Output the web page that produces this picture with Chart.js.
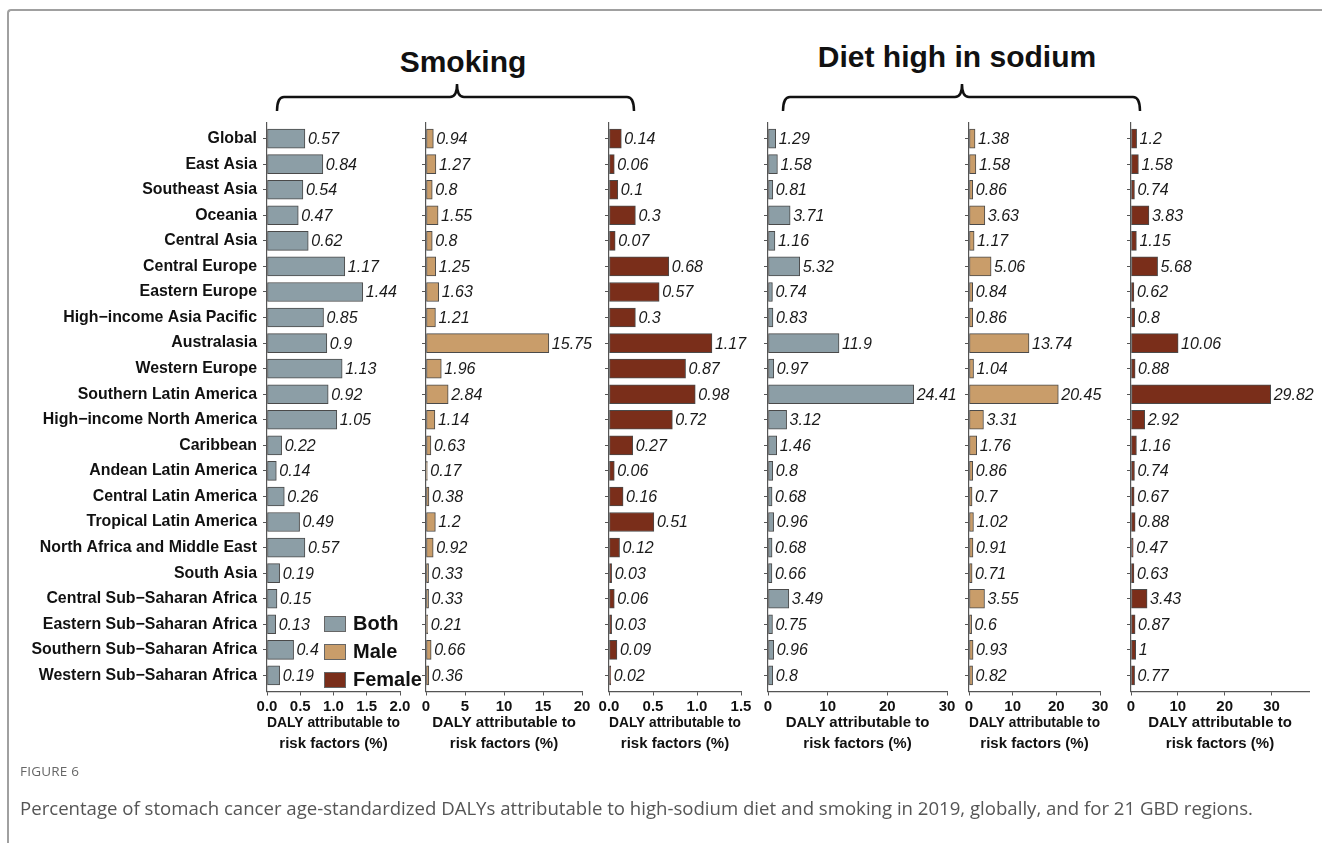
<!DOCTYPE html>
<html>
<head>
<meta charset="utf-8">
<script src="https://cdn.jsdelivr.net/npm/chart.js@4.4.0/dist/chart.umd.min.js"></script>
<style>
    body { margin: 0; width: 1322px; height: 843px; background: #fff; position: relative; overflow: hidden; font-family: "Liberation Sans", Arial, sans-serif; }
    .frame { position: absolute; left: 7px; top: 9px; width: 1400px; height: 900px; border-top: 2px solid #a0a0a0; border-left: 2px solid #a0a0a0; border-top-left-radius: 4px; }
    canvas { position: absolute; top: 0; }
    .title { position: absolute; font-weight: bold; font-size: 30px; line-height: 30px; color: #111; white-space: nowrap; transform: translateX(-50%); }
    .legend { position: absolute; left: 324px; font-weight: bold; font-size: 20px; color: #111; }
    .legend div { position: absolute; white-space: nowrap; line-height: 20px; }
    .legend span { position: absolute; left: 0; width: 20px; height: 14px; border: 1px solid #666; }
    .legend b { position: absolute; left: 29px; top: -3px; }
    .fig { position: absolute; left: 20px; top: 762px; font-family: "Open Sans", sans-serif; font-size: 13.5px; color: #666; letter-spacing: 0.2px; }
    .caption { position: absolute; left: 20px; top: 795px; font-family: "Open Sans", sans-serif; font-size: 18.6px; color: #555; white-space: nowrap; }
</style>
</head>
<body>
<div class="frame"></div>

<div class="title" style="left:463px; top:47px;">Smoking</div>
<div class="title" style="left:957px; top:42px;">Diet high in sodium</div>

<svg width="1322" height="130" style="position:absolute;left:0;top:0;">
    <path d="M277,111 Q277,97 284,97 L450,97 Q457,97 457,84 Q457,97 464,97 L627,97 Q634,97 634,111" fill="none" stroke="#111" stroke-width="2.5"/>
    <path d="M783,111 Q783,97 790,97 L955,97 Q962,97 962,84 Q962,97 969,97 L1133,97 Q1140,97 1140,111" fill="none" stroke="#111" stroke-width="2.5"/>
</svg>

<canvas id="c1" width="420" height="843" style="left:0px"></canvas>
<canvas id="c2" width="200" height="843" style="left:412px"></canvas>
<canvas id="c3" width="176" height="843" style="left:595px"></canvas>
<canvas id="c4" width="213" height="843" style="left:754px"></canvas>
<canvas id="c5" width="165" height="843" style="left:955px"></canvas>
<canvas id="c6" width="205" height="843" style="left:1117px"></canvas>

<div class="legend">
    <div style="top:616px"><span style="background:#8c9ea6"></span><b>Both</b></div>
    <div style="top:644px"><span style="background:#c99d6a"></span><b>Male</b></div>
    <div style="top:672px"><span style="background:#7a2e1a"></span><b>Female</b></div>
</div>

<div class="fig">FIGURE 6</div>
<div class="caption">Percentage of stomach cancer age-standardized DALYs attributable to high-sodium diet and smoking in 2019, globally, and for 21 GBD regions.</div>

<script>
const regions = [
    "Global", "East Asia", "Southeast Asia", "Oceania", "Central Asia", "Central Europe",
    "Eastern Europe", "High\u2212income Asia Pacific", "Australasia", "Western Europe",
    "Southern Latin America", "High\u2212income North America", "Caribbean", "Andean Latin America",
    "Central Latin America", "Tropical Latin America", "North Africa and Middle East", "South Asia",
    "Central Sub\u2212Saharan Africa", "Eastern Sub\u2212Saharan Africa", "Southern Sub\u2212Saharan Africa",
    "Western Sub\u2212Saharan Africa"
];

const smokingBoth = [0.57, 0.84, 0.54, 0.47, 0.62, 1.17, 1.44, 0.85, 0.9, 1.13, 0.92, 1.05, 0.22, 0.14, 0.26, 0.49, 0.57, 0.19, 0.15, 0.13, 0.4, 0.19];
const smokingMale = [0.94, 1.27, 0.8, 1.55, 0.8, 1.25, 1.63, 1.21, 15.75, 1.96, 2.84, 1.14, 0.63, 0.17, 0.38, 1.2, 0.92, 0.33, 0.33, 0.21, 0.66, 0.36];
const smokingFemale = [0.14, 0.06, 0.1, 0.3, 0.07, 0.68, 0.57, 0.3, 1.17, 0.87, 0.98, 0.72, 0.27, 0.06, 0.16, 0.51, 0.12, 0.03, 0.06, 0.03, 0.09, 0.02];
const sodiumBoth = [1.29, 1.58, 0.81, 3.71, 1.16, 5.32, 0.74, 0.83, 11.9, 0.97, 24.41, 3.12, 1.46, 0.8, 0.68, 0.96, 0.68, 0.66, 3.49, 0.75, 0.96, 0.8];
const sodiumMale = [1.38, 1.58, 0.86, 3.63, 1.17, 5.06, 0.84, 0.86, 13.74, 1.04, 20.45, 3.31, 1.76, 0.86, 0.7, 1.02, 0.91, 0.71, 3.55, 0.6, 0.93, 0.82];
const sodiumFemale = [1.2, 1.58, 0.74, 3.83, 1.15, 5.68, 0.62, 0.8, 10.06, 0.88, 29.82, 2.92, 1.16, 0.74, 0.67, 0.88, 0.47, 0.63, 3.43, 0.87, 1, 0.77];

const axisTitle = ["DALY attributable to", "risk factors (%)"];

const colors = { both: "#8c9ea6", male: "#c99d6a", female: "#7a2e1a" };

// value printed just right of every bar
const valueLabels = {
    id: "valueLabels",
    afterDatasetsDraw(chart) {
        const ctx = chart.ctx;
        const values = chart.data.datasets[0].data;
        ctx.save();
        ctx.font = "italic 16px 'Liberation Sans', Arial, sans-serif";
        ctx.fillStyle = "#1a1a1a";
        ctx.textBaseline = "middle";
        chart.getDatasetMeta(0).data.forEach(function (bar, i) {
            ctx.fillText(String(values[i]), bar.x + 3, bar.y + 1);
        });
        ctx.restore();
    }
};

function makePanel(id, values, color, opts) {
    const ctx = document.getElementById(id).getContext("2d");
    return new Chart(ctx, {
        type: "bar",
        data: {
            labels: regions,
            datasets: [{
                data: values,
                backgroundColor: color,
                borderColor: "#4a4a4a",
                borderWidth: 1,
                borderSkipped: false,
                barThickness: 19
            }]
        },
        plugins: [valueLabels],
        options: {
            indexAxis: "y",
            responsive: false,
            animation: false,
            layout: { padding: { top: 122.5, bottom: 88.5, left: 0, right: opts.right } },
            plugins: { legend: { display: false }, tooltip: { enabled: false } },
            scales: {
                x: {
                    min: 0,
                    max: opts.max,
                    border: { color: "#555", width: 1.2 },
                    grid: { drawOnChartArea: false, drawTicks: true, tickLength: 4, color: "#555" },
                    ticks: {
                        stepSize: opts.step,
                        includeBounds: false,
                        autoSkip: false,
                        maxRotation: 0,
                        padding: 2,
                        color: "#111",
                        font: { size: 15, weight: "bold" },
                        callback: function (v) { return opts.decimals ? v.toFixed(1) : v; }
                    },
                    title: {
                        display: true,
                        text: axisTitle,
                        color: "#111",
                        padding: { top: 0, bottom: 0 },
                        font: { size: 15, weight: "bold", lineHeight: 1.4 }
                    },
                    afterFit: function (scale) { scale.height = 63; }
                },
                y: {
                    border: { color: "#555", width: 1.2 },
                    grid: { drawOnChartArea: false, drawTicks: true, tickLength: 4, offset: false, color: "#555" },
                    ticks: {
                        display: opts.showLabels,
                        padding: 6,
                        color: "#111",
                        font: { size: 15.9, weight: "bold" }
                    },
                    // a bit of room above the first and below the last row
                    afterBuildTicks: function (scale) {
                        scale._startValue -= 0.13;
                        scale._valueRange += 0.26;
                    },
                    afterFit: function (scale) { scale.width = opts.yWidth; }
                }
            }
        }
    });
}

Chart.defaults.font.family = "'Liberation Sans', Arial, sans-serif";

makePanel("c1", smokingBoth, colors.both, { max: 2, step: 0.5, decimals: true, yWidth: 267, right: 20, showLabels: true });
makePanel("c2", smokingMale, colors.male, { max: 20, step: 5, decimals: false, yWidth: 14, right: 30, showLabels: false });
makePanel("c3", smokingFemale, colors.female, { max: 1.5, step: 0.5, decimals: true, yWidth: 14, right: 30, showLabels: false });
makePanel("c4", sodiumBoth, colors.both, { max: 30, step: 10, decimals: false, yWidth: 14, right: 20, showLabels: false });
makePanel("c5", sodiumMale, colors.male, { max: 30, step: 10, decimals: false, yWidth: 14, right: 20, showLabels: false });
makePanel("c6", sodiumFemale, colors.female, { max: 38, step: 10, decimals: false, yWidth: 14, right: 13, showLabels: false });
</script>
</body>
</html>
